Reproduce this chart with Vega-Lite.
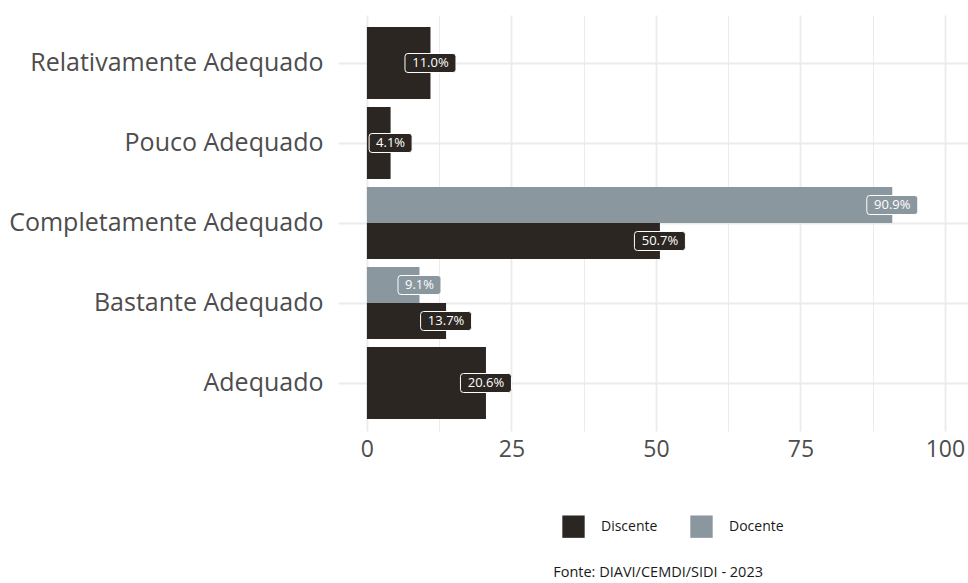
{
  "$schema": "https://vega.github.io/schema/vega-lite/v6.json",
  "width": 630,
  "height": 416,
  "autosize": {"type": "none"},
  "padding": {"left": 338, "top": 15, "right": 0, "bottom": 152},
  "background": "white",
  "config": {"font": "Open Sans", "view": {"stroke": null}},
  "title": {
    "text": "Fonte: DIAVI/CEMDI/SIDI - 2023",
    "orient": "bottom",
    "anchor": "end",
    "frame": "group",
    "fontSize": 14.5,
    "fontWeight": "normal",
    "color": "#1a1a1a",
    "dx": -205,
    "offset": 28
  },
  "data": {
    "values": [
      {"categoria": "Relativamente Adequado", "serie": "Discente", "valor": 11.0},
      {"categoria": "Pouco Adequado", "serie": "Discente", "valor": 4.1},
      {"categoria": "Completamente Adequado", "serie": "Docente", "valor": 90.9},
      {"categoria": "Completamente Adequado", "serie": "Discente", "valor": 50.7},
      {"categoria": "Bastante Adequado", "serie": "Docente", "valor": 9.1},
      {"categoria": "Bastante Adequado", "serie": "Discente", "valor": 13.7},
      {"categoria": "Adequado", "serie": "Discente", "valor": 20.6}
    ]
  },
  "transform": [
    {"joinaggregate": [{"op": "count", "as": "n"}], "groupby": ["categoria"]},
    {"calculate": "format(datum.valor, '.1f') + '%'", "as": "rotulo"}
  ],
  "encoding": {
    "y": {
      "field": "categoria",
      "type": "nominal",
      "sort": ["Relativamente Adequado", "Pouco Adequado", "Completamente Adequado", "Bastante Adequado", "Adequado"],
      "scale": {"paddingInner": 0.1, "paddingOuter": 0.15},
      "axis": {
        "title": null,
        "domain": false,
        "ticks": false,
        "grid": true,
        "bandPosition": 0.5,
        "gridColor": "#ebebeb",
        "gridWidth": 1.8,
        "labelFontSize": 25,
        "labelColor": "#4d4d4d",
        "labelPadding": 15,
        "labelLimit": 0
      }
    },
    "x": {
      "field": "valor",
      "type": "quantitative",
      "scale": {"domain": [-5, 104], "nice": false, "zero": false},
      "axis": {
        "title": null,
        "values": [0, 12.5, 25, 37.5, 50, 62.5, 75, 87.5, 100],
        "labelExpr": "datum.value % 25 === 0 ? datum.label : ''",
        "domain": false,
        "ticks": false,
        "grid": true,
        "gridColor": "#ebebeb",
        "gridWidth": {"condition": {"test": "datum.value % 25 === 0", "value": 1.8}, "value": 1},
        "labelFontSize": 23,
        "labelColor": "#4d4d4d",
        "labelPadding": 7,
        "labelFlush": false
      }
    }
  },
  "layer": [
    {
      "transform": [{"filter": "datum.n == 2"}],
      "mark": {"type": "bar"},
      "encoding": {
        "yOffset": {"field": "serie", "type": "nominal", "sort": ["Docente", "Discente"]},
        "color": {
          "field": "serie",
          "type": "nominal",
          "scale": {"domain": ["Discente", "Docente"], "range": ["#2b2622", "#8a979e"]},
          "legend": {
            "title": null,
            "orient": "none",
            "legendX": 224,
            "legendY": 500,
            "direction": "horizontal",
            "symbolType": "square",
            "symbolSize": 500,
            "symbolStrokeWidth": 0,
            "labelFontSize": 14,
            "labelColor": "#1a1a1a",
            "labelOffset": 16,
            "columnPadding": 32
          }
        }
      }
    },
    {
      "transform": [{"filter": "datum.n == 1"}],
      "mark": {"type": "bar"},
      "encoding": {
        "color": {
          "field": "serie",
          "type": "nominal",
          "scale": {"domain": ["Discente", "Docente"], "range": ["#2b2622", "#8a979e"]}
        }
      }
    },
    {
      "transform": [{"filter": "datum.n == 2"}],
      "mark": {"type": "point", "filled": true, "stroke": "white", "strokeWidth": 1, "size": 2500, "opacity": 1},
      "encoding": {
        "yOffset": {"field": "serie", "type": "nominal", "sort": ["Docente", "Discente"]},
        "fill": {
          "field": "serie",
          "type": "nominal",
          "scale": {"domain": ["Discente", "Docente"], "range": ["#2b2622", "#8a979e"]},
          "legend": null
        },
        "shape": {
          "condition": {"test": "datum.valor < 10", "value": "M-0.74,-0.38H0.74Q0.86,-0.38 0.86,-0.26V0.26Q0.86,0.38 0.74,0.38H-0.74Q-0.86,0.38 -0.86,0.26V-0.26Q-0.86,-0.38 -0.74,-0.38Z"},
          "value": "M-0.9,-0.38H0.9Q1.02,-0.38 1.02,-0.26V0.26Q1.02,0.38 0.9,0.38H-0.9Q-1.02,0.38 -1.02,0.26V-0.26Q-1.02,-0.38 -0.9,-0.38Z"
        }
      }
    },
    {
      "transform": [{"filter": "datum.n == 1"}],
      "mark": {"type": "point", "filled": true, "stroke": "white", "strokeWidth": 1, "size": 2500, "opacity": 1},
      "encoding": {
        "fill": {
          "field": "serie",
          "type": "nominal",
          "scale": {"domain": ["Discente", "Docente"], "range": ["#2b2622", "#8a979e"]},
          "legend": null
        },
        "shape": {
          "condition": {"test": "datum.valor < 10", "value": "M-0.74,-0.38H0.74Q0.86,-0.38 0.86,-0.26V0.26Q0.86,0.38 0.74,0.38H-0.74Q-0.86,0.38 -0.86,0.26V-0.26Q-0.86,-0.38 -0.74,-0.38Z"},
          "value": "M-0.9,-0.38H0.9Q1.02,-0.38 1.02,-0.26V0.26Q1.02,0.38 0.9,0.38H-0.9Q-1.02,0.38 -1.02,0.26V-0.26Q-1.02,-0.38 -0.9,-0.38Z"
        }
      }
    },
    {
      "transform": [{"filter": "datum.n == 2"}],
      "mark": {"type": "text", "color": "white", "fontSize": 13},
      "encoding": {
        "yOffset": {"field": "serie", "type": "nominal", "sort": ["Docente", "Discente"]},
        "text": {"field": "rotulo"}
      }
    },
    {
      "transform": [{"filter": "datum.n == 1"}],
      "mark": {"type": "text", "color": "white", "fontSize": 13},
      "encoding": {
        "text": {"field": "rotulo"}
      }
    }
  ]
}
